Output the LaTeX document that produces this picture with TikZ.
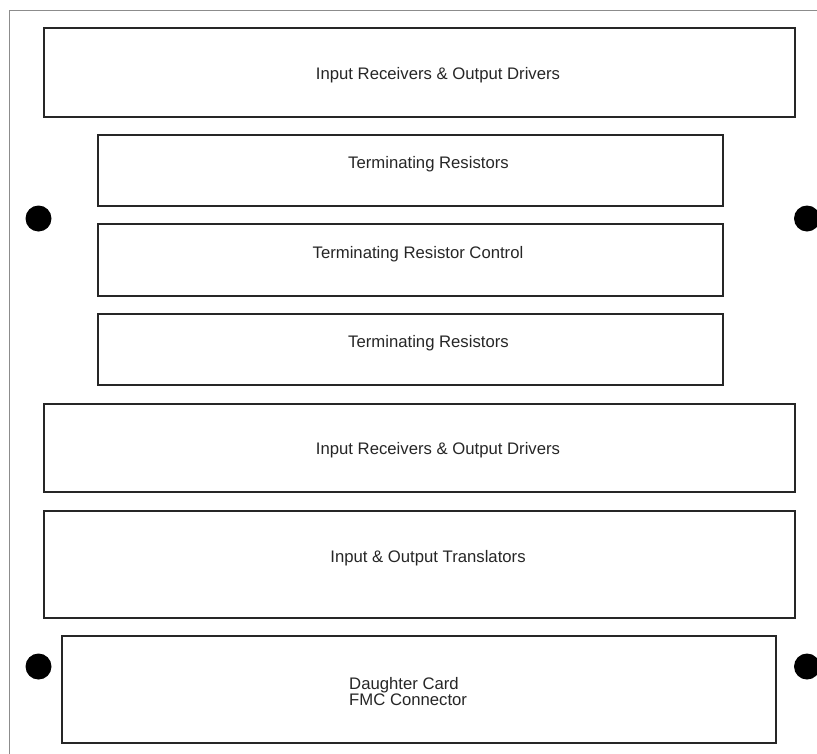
\documentclass[tikz,border=0pt]{standalone}
\usepackage{fontspec}
\setmainfont{Liberation Sans}
\begin{document}
\begin{tikzpicture}[x=1pt,y=-1pt,
  blk/.style={draw=black!85,line width=1.2pt,inner sep=0pt},
  lbl/.style={font=\fontsize{16.7}{16}\selectfont,text=black!85,inner sep=0pt},
  hole/.style={circle,fill=black,minimum size=26pt,inner sep=0pt}]
\useasboundingbox (0,0) rectangle (817,753);
\begin{scope}
\clip (0,0) rectangle (817,753);
\draw[black!45,line width=1pt] (9.5,10) rectangle (830,770);
\end{scope}
\node[blk,minimum width=751pt,minimum height=89pt] (b1) at (419.5,72.5) {};
\node[blk,minimum width=625pt,minimum height=71pt] (b2) at (410.5,170.5) {};
\node[blk,minimum width=625pt,minimum height=72pt] (b3) at (410.5,260) {};
\node[blk,minimum width=625pt,minimum height=71pt] (b4) at (410.5,349.5) {};
\node[blk,minimum width=751pt,minimum height=88pt] (b5) at (419.5,448) {};
\node[blk,minimum width=751pt,minimum height=107pt] (b6) at (419.5,564.5) {};
\node[blk,minimum width=714pt,minimum height=107pt] (b7) at (419,689.5) {};
\node[lbl] (t1) at (438,75.5) {Input Receivers \& Output Drivers};
\node[lbl] (t2) at (428.5,164.5) {Terminating Resistors};
\node[lbl] (t3) at (418,254.5) {Terminating Resistor Control};
\node[lbl] (t4) at (428.5,343.5) {Terminating Resistors};
\node[lbl] (t5) at (438,450.5) {Input Receivers \& Output Drivers};
\node[lbl] (t6) at (428,558.5) {Input \& Output Translators};
\node[lbl,align=left,anchor=west] (t7) at (349,692) {Daughter Card\\FMC Connector};
\node[hole] (h1) at (38.5,218.5) {};
\node[hole] (h2) at (807,218.5) {};
\node[hole] (h3) at (38.5,666.5) {};
\node[hole] (h4) at (807,666.5) {};
\end{tikzpicture}
\end{document}
